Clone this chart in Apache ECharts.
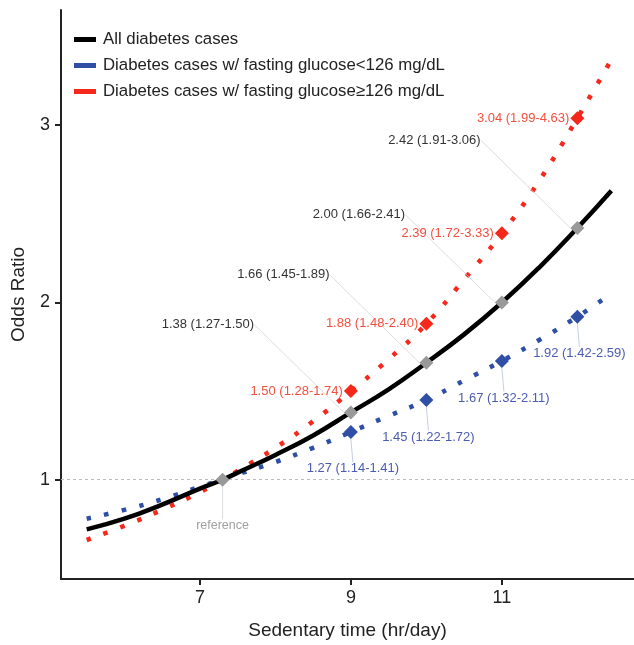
<!DOCTYPE html>
<html><head><meta charset="utf-8">
<script src="https://cdn.jsdelivr.net/npm/echarts@6/dist/echarts.min.js"></script>
<style>html,body{margin:0;padding:0;background:#fff}#c{width:634px;height:645px}</style>
</head><body><div id="c"></div>
<script>
// ---- data ----
const seriesNames = ['All diabetes cases', 'Diabetes cases w/ fasting glucose<126 mg/dL', 'Diabetes cases w/ fasting glucose\u2265126 mg/dL'];
const curveX    = [5.5, 6, 6.5, 7, 7.3, 7.5, 8, 8.5, 9, 9.5, 10, 10.5, 11, 11.5, 12, 12.45];
const allCurve  = [0.72, 0.78, 0.86, 0.95, 1.00, 1.04, 1.14, 1.25, 1.38, 1.51, 1.66, 1.82, 2.00, 2.20, 2.42, 2.63];
const lowCurve  = [0.78, 0.83, 0.89, 0.96, 1.00, 1.03, 1.10, 1.18, 1.27, 1.36, 1.45, 1.56, 1.67, 1.79, 1.92, 2.05];
const highCurve = [0.66, 0.74, 0.83, 0.93, 1.00, 1.05, 1.18, 1.33, 1.50, 1.68, 1.88, 2.13, 2.39, 2.69, 3.04, 3.37];
const pointX = [9, 10, 11, 12];
const refX = 7.3, refOR = 1.0, refLabel = 'reference';
const allOR  = [1.38, 1.66, 2.00, 2.42], allLo  = [1.27, 1.45, 1.66, 1.91], allHi  = [1.50, 1.89, 2.41, 3.06];
const lowOR  = [1.27, 1.45, 1.67, 1.92], lowLo  = [1.14, 1.22, 1.32, 1.42], lowHi  = [1.41, 1.72, 2.11, 2.59];
const highOR = [1.50, 1.88, 2.39, 3.04], highLo = [1.28, 1.48, 1.72, 1.99], highHi = [1.74, 2.40, 3.33, 4.63];
const xTicks = [7, 9, 11];
const yTicks = [1, 2, 3];
const xTitle = 'Sedentary time (hr/day)';
const yTitle = 'Odds Ratio';

// ---- build ----
const FONT = '"Liberation Sans", Arial, Helvetica, sans-serif';
const BLACK = '#000000', BLUE = '#2e4fa5', RED = '#f6281c', GREY = '#999999';
const pairs = (xs, ys) => xs.map((x, i) => [x, ys[i]]);
const fmt = (o, l, h) => o.toFixed(2) + ' (' + l.toFixed(2) + '-' + h.toFixed(2) + ')';

const chart = echarts.init(document.getElementById('c'), null, {renderer: 'canvas'});
chart.setOption({
  animation: false,
  textStyle: {fontFamily: FONT},
  grid: {left: 61, right: 0, top: 10, bottom: 65, containLabel: false},
  legend: {
    data: seriesNames, orient: 'vertical', left: 74, top: 31, padding: 0,
    icon: 'rect', itemWidth: 22, itemHeight: 5, itemGap: 9,
    itemStyle: {borderWidth: 0},
    textStyle: {fontFamily: FONT, fontSize: 16.8, color: '#222', padding: [0, 0, 0, 2]}
  },
  xAxis: {
    type: 'value', min: 5.16, max: 12.75,
    name: xTitle, nameLocation: 'middle', nameGap: 42,
    nameTextStyle: {fontSize: 19, color: '#222', fontFamily: FONT},
    axisLine: {show: true, lineStyle: {color: '#222', width: 2}},
    axisTick: {show: true, length: 6, lineStyle: {color: '#222', width: 2}, customValues: xTicks},
    axisLabel: {fontSize: 18, color: '#222', margin: 10, customValues: xTicks, fontFamily: FONT},
    splitLine: {show: false}
  },
  yAxis: {
    type: 'value', min: 0.44, max: 3.65,
    name: yTitle, nameLocation: 'middle', nameGap: 33,
    nameTextStyle: {fontSize: 19, color: '#222', fontFamily: FONT},
    axisLine: {show: true, lineStyle: {color: '#222', width: 2}},
    axisTick: {show: true, length: 6, lineStyle: {color: '#222', width: 2}, customValues: yTicks},
    axisLabel: {fontSize: 18, color: '#222', margin: 11, customValues: yTicks, fontFamily: FONT},
    splitLine: {show: false}
  },
  series: [
    {
      name: seriesNames[2], type: 'line', smooth: true, showSymbol: false, symbol: 'none',
      data: pairs(curveX, highCurve), color: RED, z: 2,
      lineStyle: {color: RED, width: 4.6, type: [4.5, 13.5], cap: 'butt'}
    },
    {
      name: seriesNames[1], type: 'line', smooth: true, showSymbol: false, symbol: 'none',
      data: pairs(curveX, lowCurve), color: BLUE, z: 2,
      lineStyle: {color: BLUE, width: 4.6, type: [4.5, 13.5], cap: 'butt'}
    },
    {
      name: seriesNames[0], type: 'line', smooth: true, showSymbol: false, symbol: 'none',
      data: pairs(curveX, allCurve), color: BLACK, z: 3,
      lineStyle: {color: BLACK, width: 4.5},
      markLine: {
        silent: true, symbol: 'none', label: {show: false},
        lineStyle: {color: '#bbbbbb', width: 1, type: [3, 3]},
        data: [{yAxis: refOR}]
      }
    },
    {
      type: 'scatter', symbol: 'diamond', symbolSize: 14, z: 5,
      itemStyle: {color: GREY, opacity: 1},
      data: pairs(pointX, allOR),
      label: {
        show: true, position: 'inside', fontSize: 13, color: '#333', fontFamily: FONT,
        formatter: p => fmt(allOR[p.dataIndex], allLo[p.dataIndex], allHi[p.dataIndex])
      },
      labelLayout: {dx: -143, dy: -88},
      labelLine: {show: true, lineStyle: {color: '#d4d4d4', width: 0.8}}
    },
    {
      type: 'scatter', symbol: 'diamond', symbolSize: 14, z: 5,
      itemStyle: {color: GREY, opacity: 1},
      data: [[refX, refOR]],
      label: {show: true, position: 'inside', fontSize: 12.5, color: '#a0a0a0', fontFamily: FONT, formatter: refLabel},
      labelLayout: {dx: 0, dy: 46},
      labelLine: {show: true, lineStyle: {color: '#d4d4d4', width: 0.8}}
    },
    {
      type: 'scatter', symbol: 'diamond', symbolSize: 14, z: 5,
      itemStyle: {color: RED, opacity: 1},
      data: pairs(pointX, highOR),
      label: {
        show: true, position: 'left', distance: 1, fontSize: 13, color: '#f2503e', fontFamily: FONT,
        formatter: p => fmt(highOR[p.dataIndex], highLo[p.dataIndex], highHi[p.dataIndex])
      }
    },
    {
      type: 'scatter', symbol: 'diamond', symbolSize: 14, z: 5,
      itemStyle: {color: BLUE, opacity: 1},
      data: pairs(pointX, lowOR),
      label: {
        show: true, position: 'inside', fontSize: 13, color: '#4a5cb0', fontFamily: FONT,
        formatter: p => fmt(lowOR[p.dataIndex], lowLo[p.dataIndex], lowHi[p.dataIndex])
      },
      labelLayout: {dx: 2, dy: 37},
      labelLine: {show: true, lineStyle: {color: '#b9c1de', width: 0.8}}
    }
  ]
});
</script></body></html>
